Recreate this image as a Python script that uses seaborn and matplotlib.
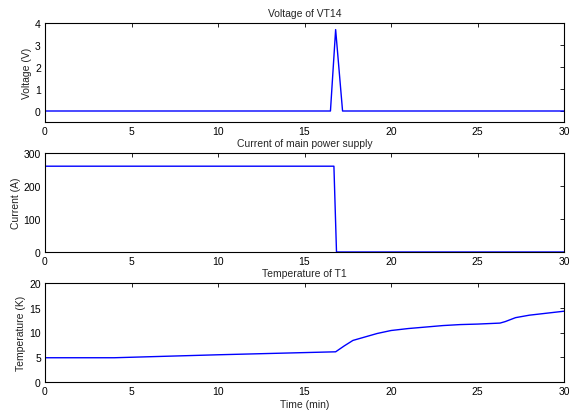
import numpy as np
import pandas as pd
import matplotlib
matplotlib.use('Agg')
import matplotlib.pyplot as plt
import seaborn as sns

# voltage of VT14
volt_t = [0, 16.5, 16.8, 17.2, 30]
volt_v = [0, 0, 3.7, 0, 0]

# current of main power supply
curr_t = [0, 16.7, 16.85, 30]
curr_a = [260, 260, 0, 0]

# temperature of T1
temp_t = [0, 4, 10, 16.8, 17.3, 17.8, 18.5, 19.2, 20, 21, 22, 23, 24, 25, 26.3, 26.6, 27.2, 28, 29, 30]
temp_k = [4.9, 4.9, 5.5, 6.1, 7.3, 8.4, 9.1, 9.8, 10.4, 10.8, 11.1, 11.4, 11.6, 11.7, 11.9, 12.2, 13.0, 13.5, 13.9, 14.3]

sns.set_style('white')
plt.rcParams['font.family'] = ['Liberation Sans', 'DejaVu Sans']
plt.rcParams['font.size'] = 7.5

fig = plt.figure(figsize=(5.74, 4.14), dpi=100)
left, width, height = 45 / 574, 519 / 574, 99 / 414
bottoms = [1 - 123 / 414, 1 - 253 / 414, 1 - 383 / 414]
axes = [fig.add_axes([left, b, width, height]) for b in bottoms]

sns.lineplot(x=volt_t, y=volt_v, ax=axes[0], color='#0000ff', linewidth=1)
sns.lineplot(x=curr_t, y=curr_a, ax=axes[1], color='#0000ff', linewidth=1)
sns.lineplot(x=temp_t, y=temp_k, ax=axes[2], color='#0000ff', linewidth=1)

axes[0].set_ylim(-0.5, 4)
axes[0].set_yticks([0, 1, 2, 3, 4])
axes[0].set_title('Voltage of VT14', fontsize=7.5, pad=5)
axes[0].set_ylabel('Voltage (V)', fontsize=7.5, labelpad=2)

axes[1].set_ylim(0, 300)
axes[1].set_yticks([0, 100, 200, 300])
axes[1].set_title('Current of main power supply', fontsize=7.5, pad=5)
axes[1].set_ylabel('Current (A)', fontsize=7.5, labelpad=2)

axes[2].set_ylim(0, 20)
axes[2].set_yticks([0, 5, 10, 15, 20])
axes[2].set_title('Temperature of T1', fontsize=7.5, pad=5)
axes[2].set_ylabel('Temperature (K)', fontsize=7.5, labelpad=2)
axes[2].set_xlabel('Time (min)', fontsize=7.5, labelpad=2)

for ax in axes:
    ax.set_xlim(0, 30)
    ax.set_xticks([0, 5, 10, 15, 20, 25, 30])
    ax.tick_params(direction='in', length=3, width=0.6, top=True, right=True,
                   labelsize=7.5, pad=3, colors='black')
    for s in ax.spines.values():
        s.set_visible(True)
        s.set_color('black')
        s.set_linewidth(0.8)
    ax.yaxis.label.set_color('#222222')

fig.savefig('out.png', dpi=100)
